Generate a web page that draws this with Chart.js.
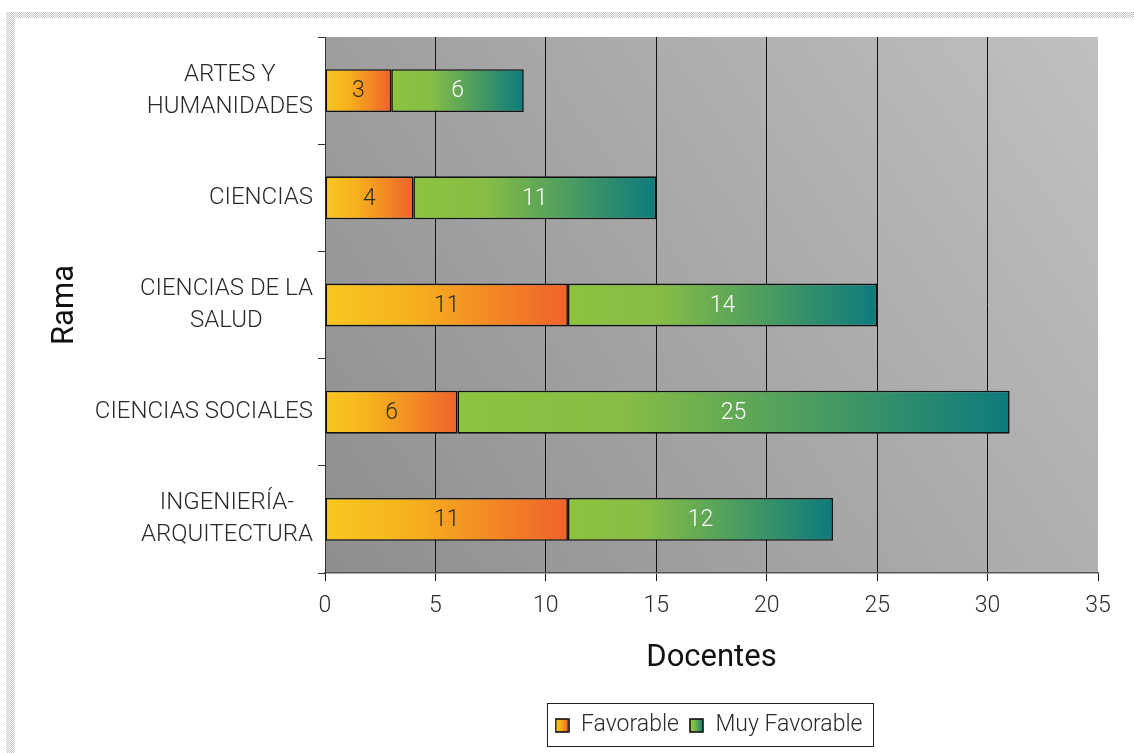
<!DOCTYPE html>
<html><head><meta charset="utf-8">
<script src="https://cdn.jsdelivr.net/npm/chart.js@4/dist/chart.umd.min.js"></script>
<style>
html,body{margin:0;padding:0;background:#fff;overflow:hidden;}
#wrap{position:relative;width:1134px;height:753px;}
#c{position:absolute;left:0;top:0;}
.dot{position:absolute;background-image:repeating-conic-gradient(#c4c4c4 0 25%,#ffffff 0 50%);background-size:2px 2px;}
</style></head>
<body>
<div id="wrap">
<div class="dot" style="left:6px;top:12px;width:1128px;height:6px"></div>
<div class="dot" style="left:6px;top:12px;width:9px;height:741px"></div>
<canvas id="c" width="1134" height="753"></canvas>
</div>
<script>
const categories = [['ARTES Y','HUMANIDADES'],'CIENCIAS',['CIENCIAS DE LA','SALUD'],'CIENCIAS SOCIALES',['INGENIERÍA-','ARQUITECTURA']];
const seriesNames = ['Favorable','Muy Favorable'];
const favorable = [3,4,11,6,11];
const muyFavorable = [6,11,14,25,12];
const xMin = 0, xMax = 35, xStep = 5;

const FONT = 'Roboto';
const favStops = [[0,'#f8c720'],[0.35,'#f6b21e'],[1,'#f0622a']];
const muyStops = [[0,'#8cc43f'],[0.3,'#86bd45'],[1,'#0d7a7c']];

function segGradient(ctx, stops, dsIndex){
  const chart = ctx.chart;
  if (ctx.type !== 'data' || !chart.chartArea) return stops[0][1];
  const x = chart.scales.x;
  let start = 0;
  for (let d = 0; d < dsIndex; d++) start += chart.data.datasets[d].data[ctx.dataIndex];
  const end = start + chart.data.datasets[dsIndex].data[ctx.dataIndex];
  const x0 = x.getPixelForValue(start), x1 = x.getPixelForValue(end);
  const g = chart.ctx.createLinearGradient(x0, 0, x1, 0);
  stops.forEach(s => g.addColorStop(s[0], s[1]));
  return g;
}
function legendIcon(stops){
  const cv = document.createElement('canvas');
  cv.width = 15; cv.height = 15;
  const c = cv.getContext('2d');
  const g = c.createLinearGradient(1,0,14,0);
  stops.forEach(s => g.addColorStop(s[0], s[1]));
  c.fillStyle = g; c.fillRect(1,1,13,13);
  c.strokeStyle = '#111'; c.lineWidth = 1.6; c.strokeRect(1,1,13,13);
  return cv;
}
const icons = [legendIcon(favStops), legendIcon(muyStops)];

const bgPlugin = {
  id: 'plotBg',
  beforeDraw(chart){
    const a = chart.chartArea, ctx = chart.ctx;
    // centre the legend under the plot area
    const lg = chart.legend;
    if (lg && lg.legendHitBoxes && !lg._shifted) {
      const dx = (a.left + a.right) / 2 - (lg.left + lg.right) / 2 - 3;
      lg.left += dx; lg.right += dx;
      lg.legendHitBoxes.forEach(h => { h.left += dx; });
      lg._shifted = true;
    }
    const g = ctx.createLinearGradient(a.left, a.bottom, a.right, a.top);
    g.addColorStop(0, '#8e8e8e');
    g.addColorStop(1, '#c0c0c0');
    ctx.save(); ctx.fillStyle = g;
    ctx.fillRect(a.left, a.top, a.right - a.left, a.bottom - a.top);
    ctx.restore();
  }
};
const valuePlugin = {
  id: 'values',
  afterDatasetsDraw(chart){
    const ctx = chart.ctx;
    ctx.save();
    ctx.font = '300 23px ' + FONT;
    ctx.textAlign = 'center'; ctx.textBaseline = 'middle';
    chart.data.datasets.forEach((ds, di) => {
      const meta = chart.getDatasetMeta(di);
      meta.data.forEach((el, i) => {
        ctx.fillStyle = di === 0 ? '#2a2a2a' : '#ffffff';
        ctx.fillText(String(ds.data[i]), (el.x + el.base) / 2, el.y + 1);
      });
    });
    ctx.restore();
  }
};
// category labels: each multi-line label centred on itself, block right-aligned next to the axis
const catLabels = {
  id: 'catLabels',
  afterDraw(chart){
    const y = chart.scales.y, ctx = chart.ctx;
    const lh = 32, right = y.right - 7 - 5;
    ctx.save();
    ctx.font = '300 24px ' + FONT;
    ctx.fillStyle = '#2a2a2a';
    ctx.textAlign = 'center'; ctx.textBaseline = 'middle';
    chart.data.labels.forEach((lab, i) => {
      const lines = Array.isArray(lab) ? lab : [lab];
      const w = Math.max(...lines.map(t => ctx.measureText(t).width));
      const cx = right - w / 2;
      const cy = y.getPixelForValue(i);
      lines.forEach((t, k) => ctx.fillText(t, cx, cy + (k - (lines.length - 1) / 2) * lh));
    });
    ctx.restore();
  }
};
const legendBox = {
  id: 'legendBox',
  afterDraw(chart){
    const lg = chart.legend;
    if (!lg || !lg.legendHitBoxes || !lg.legendHitBoxes.length) return;
    const hb = lg.legendHitBoxes;
    const l = Math.min(...hb.map(h => h.left)) - 8;
    const r = Math.max(...hb.map(h => h.left + h.width)) + 10;
    const t = Math.min(...hb.map(h => h.top)) - 11;
    const b = Math.max(...hb.map(h => h.top + h.height)) + 9;
    const ctx = chart.ctx;
    ctx.save(); ctx.strokeStyle = '#222'; ctx.lineWidth = 1;
    ctx.strokeRect(Math.round(l)+0.5, Math.round(t)+0.5, Math.round(r-l), Math.round(b-t));
    ctx.restore();
  }
};

new Chart(document.getElementById('c'), {
  type: 'bar',
  data: {
    labels: categories,
    datasets: [
      { label: seriesNames[0], data: favorable,
        backgroundColor: ctx => segGradient(ctx, favStops, 0),
        borderColor: '#111', borderWidth: 1.6, borderSkipped: false,
        categoryPercentage: 1, barPercentage: 0.4 },
      { label: seriesNames[1], data: muyFavorable,
        backgroundColor: ctx => segGradient(ctx, muyStops, 1),
        borderColor: '#111', borderWidth: 1.6, borderSkipped: false,
        categoryPercentage: 1, barPercentage: 0.4 }
    ]
  },
  options: {
    indexAxis: 'y',
    responsive: false,
    animation: false,
    devicePixelRatio: 1,
    layout: { padding: { top: 37, right: 36, left: 47, bottom: 6 } },
    scales: {
      x: {
        stacked: true, min: xMin, max: xMax,
        afterFit(s){ s.height = 131; },
        ticks: { stepSize: xStep, color: '#2a2a2a', padding: 11, font: { family: FONT, size: 23, weight: '300' } },
        grid: { color: c => (c.tick && (c.tick.value === xMax || c.tick.value === xMin)) ? 'rgba(0,0,0,0)' : '#111',
                tickColor: '#111', lineWidth: 1, tickLength: 8, drawOnChartArea: true },
        border: { display: true, color: '#555', width: 1.5 },
        title: { display: true, text: 'Docentes', color: '#111',
                 font: { family: FONT, size: 31, weight: '400' }, padding: { top: 4, bottom: 27 } }
      },
      y: {
        stacked: true,
        afterFit(s){ s.width = 325 - 47; },
        ticks: { display: false },
        grid: { offset: true, drawOnChartArea: false, tickLength: 7, color: '#333', tickColor: '#333' },
        border: { display: true, color: '#333', width: 1 },
        title: { display: true, text: 'Rama', color: '#111',
                 font: { family: FONT, size: 31, weight: '400' }, padding: { top: 0, bottom: 0 } }
      }
    },
    plugins: {
      tooltip: { enabled: false },
      legend: {
        position: 'bottom',
        labels: {
          color: '#2a2a2a',
          font: { family: FONT, size: 23, weight: '300' },
          usePointStyle: true, boxWidth: 15, boxHeight: 15, padding: 10,
          generateLabels(chart){
            return chart.data.datasets.map((ds, i) => ({
              text: ds.label, pointStyle: icons[i], fillStyle: 'transparent',
              strokeStyle: 'transparent', lineWidth: 0, datasetIndex: i, hidden: false, fontColor: '#2a2a2a'
            }));
          }
        }
      }
    }
  },
  plugins: [bgPlugin, valuePlugin, catLabels, legendBox]
});
</script>
</body></html>
